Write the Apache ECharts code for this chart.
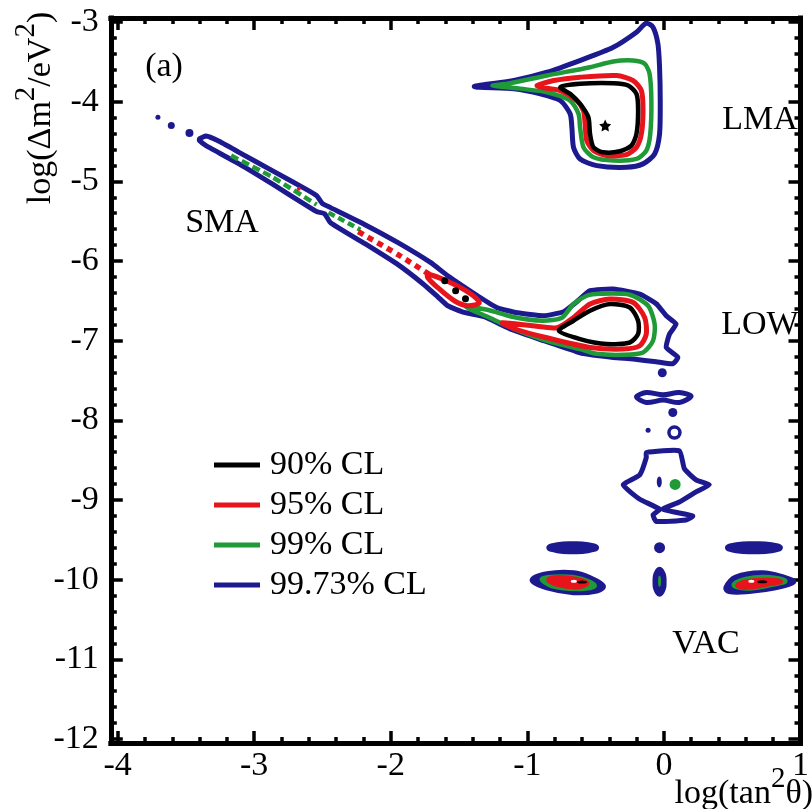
<!DOCTYPE html>
<html><head><meta charset="utf-8">
<script src="https://cdn.jsdelivr.net/npm/echarts@6/dist/echarts.min.js"></script>
<style>html,body{margin:0;padding:0;background:#fff}#c{width:812px;height:809px}</style>
</head><body><div id="c"></div>
<script>
// ---------------- data (log(tan^2 theta), log(dm^2/eV^2)) ----------------
const levels = ['90% CL', '95% CL', '99% CL', '99.73% CL'];
const xTicks = [-4, -3, -2, -1, 0, 1];
const yTicks = [-12, -11, -10, -9, -8, -7, -6, -5, -4, -3];

// LMA island
const lma9973 = [[-1.389,-3.810],[-1.098,-3.735],[-0.856,-3.631],[-0.616,-3.484],[-0.371,-3.317],[-0.201,-3.128],[-0.129,-3.015],[-0.080,-3.065],[-0.044,-3.274],[-0.032,-3.568],[-0.027,-3.986],[-0.032,-4.405],[-0.068,-4.656],[-0.153,-4.781],[-0.274,-4.824],[-0.492,-4.803],[-0.614,-4.719],[-0.662,-4.573],[-0.674,-4.322],[-0.687,-4.153],[-0.759,-3.986],[-0.905,-3.902],[-1.098,-3.839]];
const lma99 = [[-1.256,-3.798],[-1.147,-3.776],[-0.856,-3.672],[-0.541,-3.568],[-0.371,-3.496],[-0.225,-3.484],[-0.141,-3.525],[-0.105,-3.651],[-0.092,-3.986],[-0.100,-4.405],[-0.129,-4.614],[-0.201,-4.719],[-0.371,-4.740],[-0.516,-4.698],[-0.589,-4.573],[-0.614,-4.322],[-0.625,-4.153],[-0.687,-3.986],[-0.856,-3.882],[-1.147,-3.819]];
const lma95 = [[-0.929,-3.798],[-0.807,-3.735],[-0.614,-3.693],[-0.347,-3.672],[-0.225,-3.735],[-0.165,-3.861],[-0.153,-4.112],[-0.165,-4.405],[-0.201,-4.573],[-0.274,-4.665],[-0.420,-4.677],[-0.516,-4.614],[-0.565,-4.489],[-0.577,-4.279],[-0.589,-4.112],[-0.638,-3.986],[-0.759,-3.861],[-0.880,-3.827]];
const lma90 = [[-0.759,-3.819],[-0.614,-3.776],[-0.371,-3.769],[-0.262,-3.798],[-0.201,-3.902],[-0.189,-4.112],[-0.201,-4.405],[-0.238,-4.552],[-0.323,-4.623],[-0.444,-4.636],[-0.516,-4.573],[-0.541,-4.405],[-0.553,-4.196],[-0.614,-4.028],[-0.687,-3.902]];
const bestFit = [[-0.43, -4.30]];

// SMA band joined to LOW island (99.73%)
const band9973 = [[-3.401,-4.467],[-3.353,-4.432],[-3.268,-4.489],[-3.111,-4.636],[-2.868,-4.866],[-2.625,-5.095],[-2.543,-5.180],[-2.500,-5.280],[-2.441,-5.330],[-2.189,-5.544],[-1.947,-5.770],[-1.707,-6.021],[-1.583,-6.185],[-1.365,-6.436],[-1.220,-6.587],[-1.074,-6.650],[-0.880,-6.687],[-0.735,-6.637],[-0.638,-6.511],[-0.541,-6.373],[-0.371,-6.352],[-0.177,-6.415],[-0.056,-6.536],[0.017,-6.687],[0.089,-6.791],[0.041,-6.917],[0.017,-7.085],[0.102,-7.211],[0.065,-7.290],[-0.056,-7.265],[-0.225,-7.231],[-0.371,-7.211],[-0.565,-7.168],[-0.638,-7.139],[-0.880,-7.001],[-1.111,-6.863],[-1.316,-6.700],[-1.462,-6.646],[-1.583,-6.562],[-1.656,-6.449],[-1.765,-6.285],[-1.947,-6.046],[-2.189,-5.783],[-2.441,-5.519],[-2.485,-5.406],[-2.543,-5.381],[-2.580,-5.343],[-2.868,-5.033],[-3.111,-4.781],[-3.353,-4.552],[-3.401,-4.489]];
const low99 = [[-1.452,-6.574],[-1.292,-6.612],[-1.111,-6.700],[-0.892,-6.750],[-0.747,-6.712],[-0.662,-6.540],[-0.565,-6.436],[-0.468,-6.411],[-0.250,-6.423],[-0.116,-6.562],[-0.068,-6.791],[-0.080,-7.001],[-0.153,-7.148],[-0.298,-7.177],[-0.492,-7.165],[-0.614,-7.106],[-0.856,-7.001],[-1.098,-6.851],[-1.292,-6.700]];
const low95 = [[-1.183,-6.775],[-0.965,-6.813],[-0.783,-6.838],[-0.662,-6.709],[-0.541,-6.540],[-0.396,-6.477],[-0.225,-6.520],[-0.141,-6.709],[-0.129,-6.917],[-0.177,-7.064],[-0.298,-7.106],[-0.541,-7.085],[-0.856,-6.964],[-1.074,-6.863]];
const low90 = [[-0.769,-6.876],[-0.662,-6.750],[-0.541,-6.624],[-0.396,-6.540],[-0.250,-6.583],[-0.189,-6.750],[-0.189,-6.917],[-0.250,-7.023],[-0.420,-7.043],[-0.614,-6.980]];
const sma99a = [[-3.169,-4.677],[-2.868,-4.946],[-2.543,-5.293]];
const sma99b = [[-2.456,-5.393],[-2.223,-5.607]];
const sma95a = [[-2.238,-5.632],[-1.947,-5.920],[-1.714,-6.172]];
const sma95island = [[-1.729,-6.163],[-1.561,-6.273],[-1.416,-6.411],[-1.351,-6.524],[-1.438,-6.562],[-1.535,-6.499],[-1.656,-6.335],[-1.729,-6.210]];
const sma90dots = [[-1.605,-6.248],[-1.525,-6.373],[-1.453,-6.474]];
const sma95dots = [[-2.674,-5.092]];

// VAC region
const fig8 = [[-0.201,-7.705],[-0.129,-7.651],[-0.007,-7.680],[0.113,-7.651],[0.199,-7.698],[0.113,-7.776],[-0.007,-7.746],[-0.129,-7.776]];
const vacBig = [[-0.129,-8.405],[0.113,-8.383],[0.150,-8.609],[0.235,-8.747],[0.332,-8.810],[0.235,-8.898],[0.113,-9.024],[-0.007,-9.116],[0.211,-9.200],[0.162,-9.250],[-0.056,-9.269],[-0.080,-9.187],[-0.032,-9.116],[-0.177,-8.990],[-0.298,-8.810],[-0.177,-8.685],[-0.129,-8.467]];
const vacEllL = [[-0.843,-9.598],[-0.780,-9.560],[-0.668,-9.548],[-0.556,-9.560],[-0.493,-9.598],[-0.556,-9.636],[-0.668,-9.648],[-0.780,-9.636]];
const vacEllR = [[0.465,-9.598],[0.530,-9.560],[0.659,-9.548],[0.788,-9.560],[0.853,-9.598],[0.788,-9.636],[0.659,-9.648],[0.530,-9.636]];
const vacIslL9973 = [[-0.965,-10.007],[-0.856,-9.925],[-0.662,-9.912],[-0.541,-9.975],[-0.444,-10.079],[-0.492,-10.142],[-0.662,-10.163],[-0.856,-10.104]];
const vacIslL99 = [[-0.892,-9.990],[-0.747,-9.960],[-0.602,-9.990],[-0.507,-10.079],[-0.638,-10.116],[-0.820,-10.079]];
const vacIslL95 = [[-0.842,-9.997],[-0.711,-9.978],[-0.565,-10.041],[-0.638,-10.091],[-0.783,-10.060]];
const vacOval = [[-0.032,-9.868],[-0.005,-9.930],[0.001,-10.025],[-0.005,-10.120],[-0.032,-10.182],[-0.059,-10.120],[-0.065,-10.025],[-0.059,-9.930]];
const vacIslR9973 = [[0.453,-10.101],[0.526,-9.966],[0.720,-9.912],[0.889,-9.975],[0.950,-10.029],[0.817,-10.101],[0.623,-10.148],[0.477,-10.150]];
const vacIslR99 = [[0.511,-10.067],[0.599,-9.992],[0.744,-9.966],[0.889,-10.016],[0.781,-10.067],[0.599,-10.111]];
const vacIslR95 = [[0.541,-10.067],[0.671,-10.010],[0.853,-10.023],[0.744,-10.060],[0.599,-10.098]];

const dots9973 = [[-3.705,-4.196],[-3.607,-4.300],[-3.474,-4.392],[-0.012,-7.403],[0.065,-7.902],[-0.116,-8.123],[-0.032,-9.598]];
const ring9973 = [[0.077,-8.153]];
const oval9973 = [[-0.034,-8.773]];
const dots99 = [[0.082,-8.804]];
const oval99 = [[-0.032,-10.020]];
const dots90 = [[-0.600,-10.030],[0.720,-10.025]];
const whiteSpots = [[-0.660,-10.020],[0.640,-10.020]];

// ---------------- styles ----------------
const colors = ['#000000', '#e8141c', '#1f9a37', '#1c1a8e'];
const FONT = 'Liberation Serif';
const dotSizes9973 = [5, 7, 8, 9, 9, 5, 11];

const shapes9973 = [
  {pts: lma9973, closed: true, smooth: 0.25},
  {pts: band9973, closed: true, smooth: 0.15},
  {pts: fig8, closed: true, smooth: 0.3},
  {pts: vacBig, closed: true, smooth: 0.15},
  {pts: vacEllL, closed: true, fill: true, smooth: 0.5},
  {pts: vacEllR, closed: true, fill: true, smooth: 0.5},
  {pts: vacIslL9973, closed: true, fill: true, smooth: 0.4},
  {pts: vacOval, closed: true, fill: true, smooth: 0.5},
  {pts: vacIslR9973, closed: true, fill: true, smooth: 0.4}
];
const shapes99 = [
  {pts: lma99, closed: true, smooth: 0.25},
  {pts: low99, closed: true, smooth: 0.25},
  {pts: sma99a, dash: [8, 4], smooth: 0.2, width: 4.5},
  {pts: sma99b, dash: [7, 4], width: 4.5},
  {pts: vacIslL99, closed: true, fill: true, smooth: 0.4},
  {pts: vacIslR99, closed: true, fill: true, smooth: 0.4}
];
const shapes95 = [
  {pts: lma95, closed: true, smooth: 0.25},
  {pts: low95, closed: true, smooth: 0.25},
  {pts: sma95a, dash: [6, 5], smooth: 0.2, width: 5.5},
  {pts: sma95island, closed: true, smooth: 0.3, width: 5},
  {pts: vacIslL95, closed: true, fill: true, smooth: 0.4},
  {pts: vacIslR95, closed: true, fill: true, smooth: 0.4}
];
const shapes90 = [
  {pts: lma90, closed: true, smooth: 0.25},
  {pts: low90, closed: true, smooth: 0.25}
];

function contourSeries(name, color, width, shapes, z) {
  return {
    name: name, type: 'custom', z: z, coordinateSystem: 'cartesian2d',
    xAxisIndex: 0, yAxisIndex: 0, silent: true,
    itemStyle: {color: color},
    encode: {x: 0, y: 1},
    data: shapes.map((s, i) => [s.pts[0][0], s.pts[0][1], i]),
    renderItem: function (params, api) {
      const s = shapes[api.value(2)];
      const pts = s.pts.map(p => api.coord(p));
      return {
        type: s.closed ? 'polygon' : 'polyline',
        shape: {points: pts, smooth: s.smooth || 0},
        style: {
          fill: s.fill ? color : 'none', stroke: color,
          lineWidth: s.width || width, lineDash: s.dash || null,
          lineJoin: 'round', lineCap: 'butt'
        }
      };
    }
  };
}
function dotSeries(name, data, color, size, z, symbol) {
  return {
    name: name, type: 'scatter', z: z, silent: true, data: data,
    symbol: symbol || 'circle',
    symbolSize: size,
    itemStyle: {color: color, opacity: 1}
  };
}

const axisCommon = {
  type: 'value',
  minInterval: 1, maxInterval: 1,
  axisLine: {show: true, onZero: false, lineStyle: {color: '#000', width: 5, cap: 'square'}},
  axisTick: {show: true, inside: true, length: 12, lineStyle: {color: '#000', width: 3.5}},
  minorTick: {show: true, splitNumber: 5, length: 6, lineStyle: {color: '#000', width: 3.5}},
  splitLine: {show: false}, minorSplitLine: {show: false}
};
const intLabel = v => (Math.abs(v - Math.round(v)) < 1e-6 ? String(Math.round(v)) : '');

const chart = echarts.init(document.getElementById('c'), null, {renderer: 'canvas'});
chart.setOption({
  animation: false,
  backgroundColor: '#fff',
  grid: {left: 110.8, right: 6.8, top: 18, bottom: 66, containLabel: false},
  xAxis: [
    Object.assign({}, axisCommon, {min: -4.05, max: 1, position: 'bottom',
      axisLabel: {show: true, formatter: intLabel, fontFamily: FONT, fontSize: 34, color: '#000', margin: 6}}),
    Object.assign({}, axisCommon, {min: -4.05, max: 1, position: 'top', axisLabel: {show: false}})
  ],
  yAxis: [
    Object.assign({}, axisCommon, {min: -12.05, max: -2.95, position: 'left',
      axisLabel: {show: true, formatter: intLabel, fontFamily: FONT, fontSize: 34, color: '#000', margin: 12}}),
    Object.assign({}, axisCommon, {min: -12.05, max: -2.95, position: 'right', axisLabel: {show: false}})
  ],
  legend: {
    orient: 'vertical', left: 209, top: 440, itemGap: 0,
    itemWidth: 46, itemHeight: 5, selectedMode: false,
    textStyle: {fontFamily: FONT, fontSize: 34, color: '#000', lineHeight: 40, padding: [0, 0, 0, 5]},
    data: levels.map((n, i) => ({name: n, icon: 'rect', itemStyle: {color: colors[i]}}))
  },
  series: [
    contourSeries(levels[3], colors[3], 5, shapes9973, 2),
    contourSeries(levels[2], colors[2], 4.5, shapes99, 3),
    contourSeries(levels[1], colors[1], 5, shapes95, 4),
    contourSeries(levels[0], colors[0], 4.5, shapes90, 5),
    {
      name: 'blue dots', type: 'scatter', z: 2, silent: true, symbol: 'circle',
      data: dots9973.map((p, i) => ({value: p, symbolSize: dotSizes9973[i]})),
      itemStyle: {color: colors[3], opacity: 1}
    },
    {
      name: 'blue ring', type: 'scatter', z: 2, silent: true, symbol: 'circle', symbolSize: 11,
      data: ring9973, itemStyle: {color: '#ffffff', borderColor: colors[3], borderWidth: 3.5, opacity: 1}
    },
    dotSeries('blue oval', oval9973, colors[3], [5, 11], 2),
    dotSeries('green dot', dots99, colors[2], 11, 3),
    dotSeries('green oval', oval99, colors[2], [3, 11], 3),
    dotSeries('red dots', sma95dots, colors[1], 4, 4),
    dotSeries('black dots', sma90dots, colors[0], 7, 5),
    dotSeries('black vac', dots90, colors[0], [10, 3], 5),
    dotSeries('white vac', whiteSpots, '#ffffff', [6, 3], 6),
    dotSeries('best fit', bestFit, '#000', 12, 6,
      'path://M0,-10L2.94,-4.05L9.51,-3.09L4.76,1.55L5.88,8.09L0,5L-5.88,8.09L-4.76,1.55L-9.51,-3.09L-2.94,-4.05Z')
  ],
  graphic: [
    {type: 'text', x: 164, y: 67, style: {text: '(a)', fontFamily: FONT, fontSize: 34, fill: '#000', align: 'center', verticalAlign: 'middle'}},
    {type: 'text', x: 760, y: 120, style: {text: 'LMA', fontFamily: FONT, fontSize: 34, fill: '#000', align: 'center', verticalAlign: 'middle'}},
    {type: 'text', x: 222, y: 223, style: {text: 'SMA', fontFamily: FONT, fontSize: 34, fill: '#000', align: 'center', verticalAlign: 'middle'}},
    {type: 'text', x: 760, y: 325, style: {text: 'LOW', fontFamily: FONT, fontSize: 34, fill: '#000', align: 'center', verticalAlign: 'middle'}},
    {type: 'text', x: 706, y: 644, style: {text: 'VAC', fontFamily: FONT, fontSize: 34, fill: '#000', align: 'center', verticalAlign: 'middle'}},
    {type: 'text', x: 813, y: 788, style: {
      text: '{a|log(tan}{s|2}{a|θ)}', align: 'right', verticalAlign: 'middle',
      rich: {
        a: {fontFamily: FONT, fontSize: 34, fill: '#000', color: '#000', lineHeight: 46, verticalAlign: 'bottom'},
        s: {fontFamily: FONT, fontSize: 29, fill: '#000', color: '#000', lineHeight: 46, verticalAlign: 'top'}
      }}},
    {type: 'text', x: 35, y: 108, rotation: Math.PI / 2, style: {
      text: '{a|log(Δm}{s|2}{a|/eV}{s|2}{a|)}', align: 'center', verticalAlign: 'middle',
      rich: {
        a: {fontFamily: FONT, fontSize: 34, fill: '#000', color: '#000', lineHeight: 46, verticalAlign: 'bottom'},
        s: {fontFamily: FONT, fontSize: 29, fill: '#000', color: '#000', lineHeight: 46, verticalAlign: 'top'}
      }}}
  ]
});
</script></body></html>
